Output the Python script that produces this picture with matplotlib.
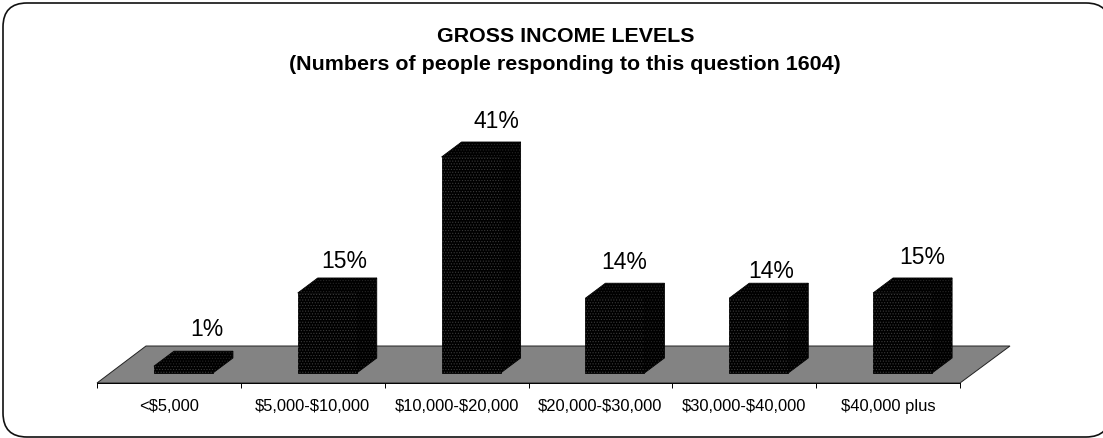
import matplotlib
matplotlib.use('Agg')
import matplotlib.pyplot as plt
from matplotlib.patches import Polygon, FancyBboxPatch

plt.rcParams['font.family'] = ['Liberation Sans', 'DejaVu Sans']
plt.rcParams['hatch.linewidth'] = 0.5

categories = [r'<\$5,000', r'\$5,000-\$10,000', r'\$10,000-\$20,000',
              r'\$20,000-\$30,000', r'\$30,000-\$40,000', r'\$40,000 plus']
percents = [1, 15, 41, 14, 14, 15]
respondents = 1604

W, H = 1103, 439
fig = plt.figure(figsize=(W / 100, H / 100), dpi=100)

# rounded frame round the whole chart, in pixels
frame = FancyBboxPatch((3, 1), W + 4, H - 5, boxstyle='round,pad=0,rounding_size=24',
                       transform=None, fc='white', ec='#111111', lw=1.2, zorder=-1)
frame.set_figure(fig)
fig.patches.append(frame)

fig.text(566 / W, 1 - 36 / H, 'GROSS INCOME LEVELS', ha='center', va='center',
         fontsize=15.4, fontweight='bold')
fig.text(565 / W, 1 - 65 / H, f'(Numbers of people responding to this question {respondents})',
         ha='center', va='center', fontsize=15.4, fontweight='bold')

# axes box runs from the bar base up to the tallest bar front
ax = fig.add_axes([97 / W, 1 - 374 / H, (960 - 97) / W, (374 - 158) / H])
n = len(categories)
base = -0.3
ax.set_xlim(0, n)
ax.set_ylim(base, max(percents))
ax.patch.set_visible(False)

# grey floor
front_l = ax.transData.transform((0, base)) + (0, -10)
front_r = ax.transData.transform((n, base)) + (0, -10)
floor = Polygon([front_l, front_r, front_r + (50, 37), front_l + (49, 37)], transform=None,
                fc='#838383', ec='#222222', lw=0.7, zorder=1, clip_on=False)
ax.add_patch(floor)

# 3d bars: front, side and top faces
bar_w = 59 / 143.8
depth_x, depth_y = 20, 15
shift_x = 14.5 / 143.8
for i, v in enumerate(percents):
    x0 = i + 0.5 + shift_x - bar_w / 2
    x_l, y_b = ax.transData.transform((x0, base))
    x_r, y_t = ax.transData.transform((x0 + bar_w, v))
    front = [(x_l, y_b), (x_r, y_b), (x_r, y_t), (x_l, y_t)]
    side = [(x_r, y_b), (x_r + depth_x, y_b + depth_y), (x_r + depth_x, y_t + depth_y), (x_r, y_t)]
    top = [(x_l, y_t), (x_r, y_t), (x_r + depth_x, y_t + depth_y), (x_l + depth_x, y_t + depth_y)]
    for face, dots in [(front, '#3a3a3a'), (side, '#262626'), (top, '#262626')]:
        ax.add_patch(Polygon(face, transform=None, fc='black', ec='black', lw=0.6, zorder=3,
                             clip_on=False))
        ax.add_patch(Polygon(face, transform=None, fill=False, ec=dots, lw=0, hatch='......',
                             zorder=4, clip_on=False))

# value labels sit by hand over the back of each bar
label_dx = [23, 16.5, 25.5, 9, 12, 20]
label_dy = [38, 32, 36.5, 37, 28, 36]
for i, v in enumerate(percents):
    x_px, y_px = ax.transData.transform((i + 0.5 + shift_x, v))
    fig.text((x_px + label_dx[i]) / W, (y_px + label_dy[i]) / H, f'{v}%',
             ha='center', va='center', fontsize=16.5)

for name in ['top', 'left', 'right']:
    ax.spines[name].set_visible(False)
ax.spines['bottom'].set_position(('outward', 7.2))
ax.spines['bottom'].set_linewidth(0.7)
ax.spines['bottom'].set_zorder(2)
ax.set_yticks([])
ax.set_xticks(range(n + 1))
ax.set_xticklabels([])
ax.tick_params(axis='x', which='major', length=3.6, width=0.7)
ax.set_xticks([i + 0.5 for i in range(n)], minor=True)
ax.set_xticklabels(categories, minor=True, fontsize=11.9)
ax.tick_params(axis='x', which='minor', length=0, pad=11)

fig.savefig('out.png', dpi=100)
